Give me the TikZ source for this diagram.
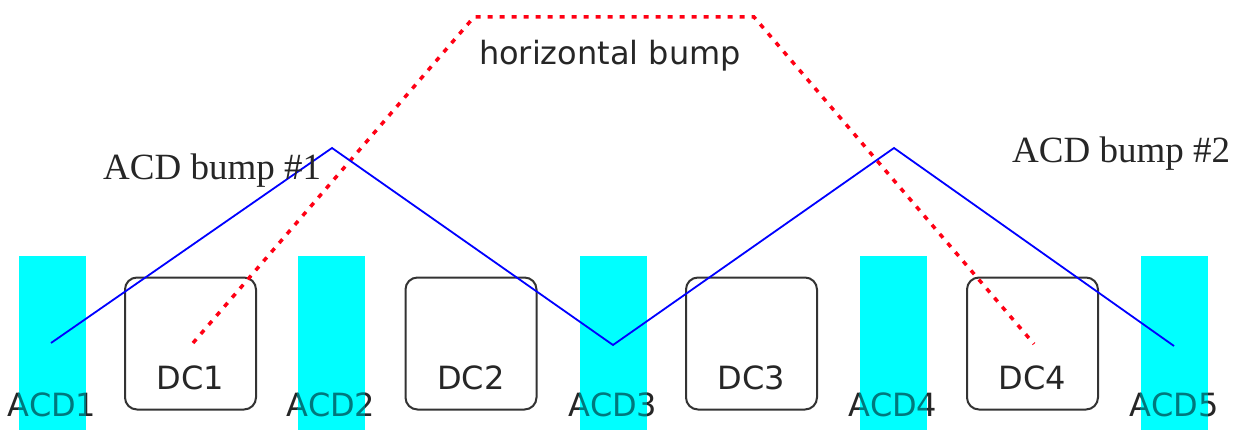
\documentclass[tikz,border=0pt]{standalone}
\usepackage{fontspec}
\setmainfont{Liberation Serif}
\newfontfamily\lblfont{DejaVu Sans}
\definecolor{aqua}{RGB}{0,255,255}
\definecolor{tealtxt}{RGB}{0,120,125}
\definecolor{redline}{RGB}{255,0,20}
\begin{document}
\begin{tikzpicture}[x=1pt,y=-1pt,
  acdbar/.style={fill=aqua,draw=none,minimum width=67pt,minimum height=174pt,inner sep=0pt},
  dcbox/.style={draw=black!80,line width=2pt,rounded corners=12pt,minimum width=131pt,minimum height=132pt,inner sep=0pt},
  sanslbl/.style={font=\lblfont\fontsize{32}{36}\selectfont,text=black!85,inner sep=0pt},
  seriflbl/.style={font=\fontsize{37}{40}\selectfont,text=black!85,inner sep=0pt},
  bluepath/.style={blue,line width=1.8pt},
  redpath/.style={redline,line width=3.5pt,dash pattern=on 5pt off 7pt}]
\useasboundingbox (0,0) rectangle (1233,430);
% ACD labels (under bars)
\foreach \i/\x in {1/52,2/331,3/613,4/893,5/1174}{
  \node[sanslbl,anchor=base] (acdl\i) at (\x,416) {ACD\i};
}
% ACD bars
\foreach \i/\x in {1/52,2/331,3/613,4/893,5/1174}{
  \node[acdbar] (acd\i) at (\x,343) {};
}
% labels inside bars redrawn teal
\foreach \i/\x in {1/52,2/331,3/613,4/893,5/1174}{
  \begin{scope}
    \clip (\x-33.5,256) rectangle (\x+33.5,430);
    \node[sanslbl,anchor=base,text=tealtxt] at (\x,416) {ACD\i};
  \end{scope}
}
% DC boxes
\foreach \i/\x in {1/190.5,2/471,3/751.5,4/1032.5}{
  \node[dcbox] (dc\i) at (\x,343.5) {};
  \node[sanslbl,anchor=base] (dcl\i) at (\x,389) {DC\i};
}
% path points
\coordinate (b0) at (51,343);
\coordinate (b1) at (332,148);
\coordinate (b2) at (613,345);
\coordinate (b3) at (894,148);
\coordinate (b4) at (1174,346);
\coordinate (r0) at (193,343);
\coordinate (r1) at (474,17);
\coordinate (r2) at (754,17);
\coordinate (r3) at (1034,344);
% red horizontal bump
\draw[redpath] (r0) -- (r1) -- (r2) -- (r3);
% blue ACD bumps
\draw[bluepath] (b0) -- (b1) -- (b2) -- (b3) -- (b4);
% texts
\node[sanslbl,anchor=base] (hb) at (610,65) {horizontal bump};
\node[seriflbl,anchor=base west] (ab1) at (103,180) {ACD bump \#1};
\node[seriflbl,anchor=base west] (ab2) at (1012,163) {ACD bump \#2};
\end{tikzpicture}
\end{document}
